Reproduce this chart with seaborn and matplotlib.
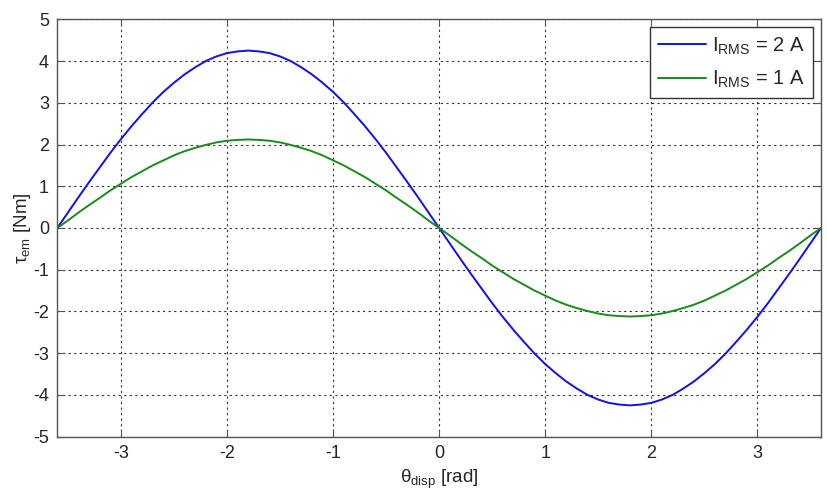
import numpy as np
import pandas as pd
import matplotlib
matplotlib.use("Agg")
import matplotlib.pyplot as plt
import seaborn as sns

theta = [-3.6, -3.5, -3.4, -3.3, -3.2, -3.1, -3.0, -2.9, -2.8, -2.7,
         -2.6, -2.5, -2.4, -2.3, -2.2, -2.1, -2.0, -1.9, -1.8,
         -1.7, -1.6, -1.5, -1.4, -1.3, -1.2, -1.1, -1.0, -0.9,
         -0.8, -0.7, -0.6, -0.5, -0.4, -0.3, -0.2, -0.1, 0.0,
         0.1, 0.2, 0.3, 0.4, 0.5, 0.6, 0.7, 0.8, 0.9,
         1.0, 1.1, 1.2, 1.3, 1.4, 1.5, 1.6, 1.7, 1.8,
         1.9, 2.0, 2.1, 2.2, 2.3, 2.4, 2.5, 2.6, 2.7,
         2.8, 2.9, 3.0, 3.1, 3.2, 3.3, 3.4, 3.5, 3.6]
tau_2A = [0.0, 0.37, 0.74, 1.10, 1.45, 1.80, 2.13, 2.44, 2.73, 3.01,
          3.26, 3.48, 3.68, 3.85, 4.00, 4.11, 4.19, 4.23, 4.25,
          4.23, 4.19, 4.11, 4.00, 3.85, 3.68, 3.48, 3.26, 3.01,
          2.73, 2.44, 2.13, 1.80, 1.45, 1.10, 0.74, 0.37, 0.0,
          -0.37, -0.74, -1.10, -1.45, -1.80, -2.13, -2.44, -2.73, -3.01,
          -3.26, -3.48, -3.68, -3.85, -4.00, -4.11, -4.19, -4.23, -4.25,
          -4.23, -4.19, -4.11, -4.00, -3.85, -3.68, -3.48, -3.26, -3.01,
          -2.73, -2.44, -2.13, -1.80, -1.45, -1.10, -0.74, -0.37, 0.0]
tau_1A = [0.0, 0.18, 0.37, 0.55, 0.72, 0.90, 1.06, 1.22, 1.36, 1.50,
          1.62, 1.74, 1.84, 1.92, 1.99, 2.05, 2.09, 2.11, 2.12,
          2.11, 2.09, 2.05, 1.99, 1.92, 1.84, 1.74, 1.62, 1.50,
          1.36, 1.22, 1.06, 0.90, 0.72, 0.55, 0.37, 0.18, 0.0,
          -0.18, -0.37, -0.55, -0.72, -0.90, -1.06, -1.22, -1.36, -1.50,
          -1.62, -1.74, -1.84, -1.92, -1.99, -2.05, -2.09, -2.11, -2.12,
          -2.11, -2.09, -2.05, -1.99, -1.92, -1.84, -1.74, -1.62, -1.50,
          -1.36, -1.22, -1.06, -0.90, -0.72, -0.55, -0.37, -0.18, 0.0]
labels = ["I$_{RMS}$ = 2 A", "I$_{RMS}$ = 1 A"]
colors = ["#1010ee", "#1a8a1a"]
x_ticks = [-3, -2, -1, 0, 1, 2, 3]
y_ticks = [-5, -4, -3, -2, -1, 0, 1, 2, 3, 4, 5]

df = pd.concat([
    pd.DataFrame({"theta": theta, "tau": tau_2A, "series": labels[0]}),
    pd.DataFrame({"theta": theta, "tau": tau_1A, "series": labels[1]}),
])

sns.set_theme(style="white")
plt.rcParams["font.family"] = ["Liberation Sans", "DejaVu Sans"]
plt.rcParams["axes.unicode_minus"] = False
plt.rcParams["mathtext.default"] = "regular"
plt.rcParams["mathtext.fontset"] = "custom"
plt.rcParams["mathtext.rm"] = "Liberation Sans"
plt.rcParams["mathtext.it"] = "Liberation Sans:italic"

fig = plt.figure(figsize=(8.27, 4.93), dpi=100)
ax = fig.add_axes([0.0693, 0.1142, 0.9234, 0.8467])

sns.lineplot(data=df, x="theta", y="tau", hue="series", palette=colors,
             hue_order=labels, linewidth=1.4, ax=ax, sort=False)

ax.set_xlim(-3.6, 3.6)
ax.set_ylim(-5, 5)
ax.set_xticks(x_ticks)
ax.set_yticks(y_ticks)
ax.grid(True, linestyle=(0, (2, 3)), color="#333333", linewidth=0.8)
for s in ax.spines.values():
    s.set_color("#555555")
    s.set_linewidth(1.0)
ax.tick_params(direction="in", length=5, width=0.8, color="#555555",
               labelsize=13, labelcolor="#262626", top=True, right=True,
               bottom=True, left=True, pad=6)
ax.set_xlabel("θ$_{disp}$ [rad]", fontsize=13.5, color="#262626", labelpad=4)
ax.set_ylabel("τ$_{em}$ [Nm]", fontsize=13.5, color="#262626", labelpad=0)

leg = ax.legend(loc="upper right", fontsize=14.5, frameon=True, fancybox=False,
                edgecolor="#333333", framealpha=1, borderpad=0.4,
                handlelength=2.4, handletextpad=0.3, labelspacing=0.6,
                borderaxespad=0.4)
leg.get_frame().set_linewidth(1.0)
for t in leg.get_texts():
    t.set_color("#262626")

fig.savefig("out.png", dpi=100)
